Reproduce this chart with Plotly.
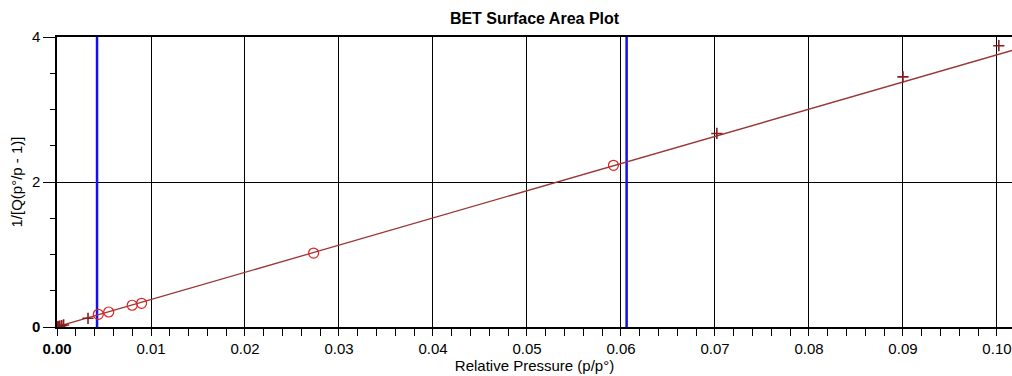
import plotly.graph_objects as go

# ---- data ----
plus_x = [0.0000, 0.0001, 0.0002, 0.0003, 0.0005, 0.0007, 0.0033, 0.0702, 0.0900, 0.1002]
plus_y = [0.002, 0.005, 0.008, 0.012, 0.020, 0.028, 0.12, 2.67, 3.45, 3.88]

circ_x = [0.0044, 0.0055, 0.0080, 0.0090, 0.0273, 0.0592]
circ_y = [0.175, 0.207, 0.30, 0.327, 1.02, 2.23]

fit_slope = 37.5
fit_intercept = 0.004
fit_x = [0.0, 0.1016]
fit_y = [fit_intercept + fit_slope * x for x in fit_x]

limit_x = [0.00426, 0.0606]

x_tickvals = [0.00, 0.01, 0.02, 0.03, 0.04, 0.05, 0.06, 0.07, 0.08, 0.09, 0.10]
x_ticktext = ["<b>0.00</b>", "0.01", "0.02", "0.03", "0.04", "0.05", "0.06", "0.07", "0.08", "0.09", "0.10"]
y_tickvals = [0, 2, 4]
y_ticktext = ["<b>0</b>", "2", "4"]

FONT = "Liberation Sans, Arial, sans-serif"

fig = go.Figure()

for lx in limit_x:
    fig.add_trace(go.Scatter(x=[lx, lx], y=[0, 4], mode="lines",
                             line=dict(color="#1010f0", width=2.5),
                             hoverinfo="skip", showlegend=False))

fig.add_trace(go.Scatter(x=fit_x, y=fit_y, mode="lines",
                         line=dict(color="#9a3535", width=1.3), showlegend=False))

fig.add_trace(go.Scatter(x=circ_x, y=circ_y, mode="markers",
                         marker=dict(symbol="circle-open", size=10, color="#e02020",
                                     line=dict(width=1.2)),
                         showlegend=False))

fig.add_trace(go.Scatter(x=plus_x, y=plus_y, mode="markers",
                         marker=dict(symbol="cross-thin", size=8, color="#8b1c1c",
                                     line=dict(color="#8b1c1c", width=1.6)),
                         showlegend=False))

fig.update_layout(
    width=1012, height=376,
    margin=dict(l=57, r=0, t=37, b=49),
    paper_bgcolor="white", plot_bgcolor="white",
    font=dict(family=FONT, size=14, color="black"),
    title=dict(text="BET Surface Area Plot", x=0.5, xref="paper", xanchor="center",
               y=0.952, yanchor="middle",
               font=dict(family=FONT, size=16, weight=700, color="black")),
    xaxis=dict(
        range=[0, 0.1016], tickvals=x_tickvals, ticktext=x_ticktext,
        showgrid=True, gridcolor="#000000", gridwidth=1,
        showline=True, linecolor="black", linewidth=1.5, mirror=True,
        ticks="outside", ticklen=7, tickcolor="black", tickwidth=1,
        minor=dict(dtick=0.002, ticks="outside", ticklen=7, tickcolor="black", showgrid=False),
        zeroline=False,
        tickfont=dict(family=FONT, size=15),
        title=dict(text="Relative Pressure (p/p°)", standoff=2,
                   font=dict(family=FONT, size=15)),
    ),
    yaxis=dict(
        range=[0, 4], tickvals=y_tickvals, ticktext=y_ticktext,
        showgrid=True, gridcolor="#000000", gridwidth=1,
        showline=True, linecolor="black", linewidth=1.5,
        ticks="outside", ticklen=12, tickcolor="black", tickwidth=1,
        minor=dict(dtick=0.5, ticks="outside", ticklen=5, tickcolor="black", showgrid=False),
        zeroline=False,
        tickfont=dict(family=FONT, size=15),
        title=dict(text="1/[Q(p°/p - 1)]", standoff=6,
                   font=dict(family=FONT, size=15)),
    ),
)

fig.write_html("out.html")
